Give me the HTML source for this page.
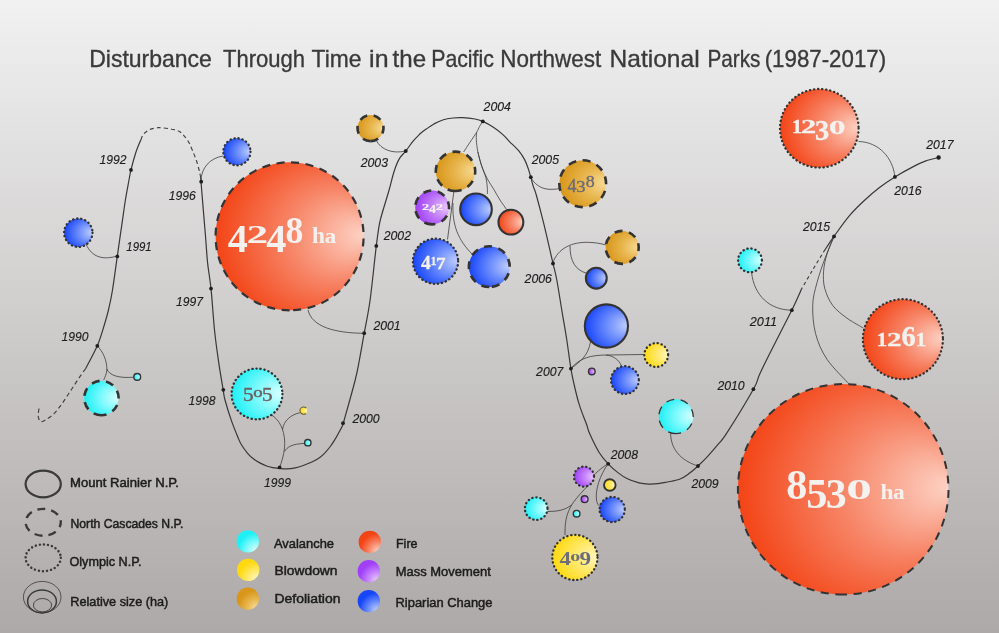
<!DOCTYPE html>
<html><head><meta charset="utf-8"><title>Disturbance Through Time</title>
<style>html,body{margin:0;padding:0;background:#ada9a8;}body{width:999px;height:633px;overflow:hidden;font-family:"Liberation Sans",sans-serif;}svg{display:block;will-change:transform}</style></head><body>
<svg width="999" height="633" viewBox="0 0 999 633">
<defs>
<linearGradient id="bg" x1="0" y1="0" x2="0" y2="1"><stop offset="0" stop-color="#f1f1f1"/><stop offset="1" stop-color="#ada9a8"/></linearGradient>
<radialGradient id="g_red" cx="0.5" cy="0.5" r="0.8" fx="1.0" fy="0.49"><stop offset="0" stop-color="#fdd2c4"/><stop offset="0.385" stop-color="#f78668"/><stop offset="0.77" stop-color="#f34416"/></radialGradient>
<radialGradient id="l_red" cx="0.86" cy="0.92" r="0.8" fx="0.86" fy="0.92"><stop offset="0" stop-color="#fdd2c4"/><stop offset="0.5" stop-color="#f78668"/><stop offset="1" stop-color="#f34416"/></radialGradient>
<radialGradient id="g_blue" cx="0.5" cy="0.5" r="0.8" fx="1.0" fy="0.49"><stop offset="0" stop-color="#c2d0ff"/><stop offset="0.385" stop-color="#6a8bfc"/><stop offset="0.77" stop-color="#1745fa"/></radialGradient>
<radialGradient id="l_blue" cx="0.86" cy="0.92" r="0.8" fx="0.86" fy="0.92"><stop offset="0" stop-color="#c2d0ff"/><stop offset="0.5" stop-color="#6a8bfc"/><stop offset="1" stop-color="#1745fa"/></radialGradient>
<radialGradient id="g_cyan" cx="0.5" cy="0.5" r="0.8" fx="1.0" fy="0.49"><stop offset="0" stop-color="#dcffff"/><stop offset="0.385" stop-color="#7ffafc"/><stop offset="0.77" stop-color="#1ef0f6"/></radialGradient>
<radialGradient id="l_cyan" cx="0.86" cy="0.92" r="0.8" fx="0.86" fy="0.92"><stop offset="0" stop-color="#dcffff"/><stop offset="0.5" stop-color="#7ffafc"/><stop offset="1" stop-color="#1ef0f6"/></radialGradient>
<radialGradient id="g_yellow" cx="0.5" cy="0.5" r="0.8" fx="1.0" fy="0.49"><stop offset="0" stop-color="#fff7c0"/><stop offset="0.385" stop-color="#ffe868"/><stop offset="0.77" stop-color="#ffd90f"/></radialGradient>
<radialGradient id="l_yellow" cx="0.86" cy="0.92" r="0.8" fx="0.86" fy="0.92"><stop offset="0" stop-color="#fff7c0"/><stop offset="0.5" stop-color="#ffe868"/><stop offset="1" stop-color="#ffd90f"/></radialGradient>
<radialGradient id="g_orange" cx="0.5" cy="0.5" r="0.8" fx="1.0" fy="0.49"><stop offset="0" stop-color="#f7dc98"/><stop offset="0.385" stop-color="#e8b64e"/><stop offset="0.77" stop-color="#d8961a"/></radialGradient>
<radialGradient id="l_orange" cx="0.86" cy="0.92" r="0.8" fx="0.86" fy="0.92"><stop offset="0" stop-color="#f7dc98"/><stop offset="0.5" stop-color="#e8b64e"/><stop offset="1" stop-color="#d8961a"/></radialGradient>
<radialGradient id="g_purple" cx="0.5" cy="0.5" r="0.8" fx="1.0" fy="0.49"><stop offset="0" stop-color="#eccbfd"/><stop offset="0.385" stop-color="#c482fb"/><stop offset="0.77" stop-color="#a03ef8"/></radialGradient>
<radialGradient id="l_purple" cx="0.86" cy="0.92" r="0.8" fx="0.86" fy="0.92"><stop offset="0" stop-color="#eccbfd"/><stop offset="0.5" stop-color="#c482fb"/><stop offset="1" stop-color="#a03ef8"/></radialGradient>
</defs>
<rect width="999" height="633" fill="url(#bg)"/>
<g font-family="Liberation Sans" font-size="24" fill="#3a3a3a" stroke="#3a3a3a" stroke-width="0.35">
<text x="89.2" y="66.6" textLength="122.7" lengthAdjust="spacingAndGlyphs">Disturbance</text>
<text x="223.0" y="66.6" textLength="82.1" lengthAdjust="spacingAndGlyphs">Through</text>
<text x="311.6" y="66.6" textLength="49.9" lengthAdjust="spacingAndGlyphs">Time</text>
<text x="369.1" y="66.6" textLength="19.4" lengthAdjust="spacingAndGlyphs">in</text>
<text x="392.6" y="66.6" textLength="33.5" lengthAdjust="spacingAndGlyphs">the</text>
<text x="431.2" y="66.6" textLength="62.7" lengthAdjust="spacingAndGlyphs">Pacific</text>
<text x="500.2" y="66.6" textLength="101.0" lengthAdjust="spacingAndGlyphs">Northwest</text>
<text x="609.6" y="66.6" textLength="90.0" lengthAdjust="spacingAndGlyphs">National</text>
<text x="707.4" y="66.6" textLength="53.0" lengthAdjust="spacingAndGlyphs">Parks</text>
<text x="764.7" y="66.6" textLength="121.4" lengthAdjust="spacingAndGlyphs">(1987-2017)</text>
</g>
<g fill="none" stroke="#383838" stroke-width="1.2" stroke-linecap="butt">
<path d="M85.6,368.7 C87.5,364.9 94.2,352.8 97.3,345.7 C100.4,338.6 102.1,332.1 104.0,326.0 C105.9,319.9 107.3,315.0 108.7,309.0 C110.1,303.0 111.1,298.8 112.5,290.0 C113.9,281.2 115.8,266.7 117.3,256.4 C118.8,246.1 119.9,237.8 121.3,228.4 C122.7,219.0 124.1,208.1 125.4,200.0 C126.7,191.9 128.1,185.0 129.0,180.0 C129.9,175.0 129.9,174.3 131.0,169.8 C132.1,165.3 134.0,158.2 135.6,153.2 C137.2,148.2 139.9,142.1 140.8,139.9"/>
<path d="M201.0,180.0 C201.0,180.5 200.4,173.8 201.1,183.0 C201.8,192.2 204.3,221.8 205.4,235.0 C206.5,248.2 206.6,253.1 207.5,262.0 C208.4,270.9 209.8,277.3 211.0,288.6 C212.2,299.9 213.3,318.1 214.5,330.0 C215.7,341.9 217.0,350.3 218.4,360.3 C219.8,370.3 222.1,383.4 223.2,390.0 C224.3,396.6 223.6,394.9 225.0,400.0 C226.4,405.1 229.3,414.6 231.5,420.9 C233.7,427.1 236.4,433.6 238.0,437.5 C239.6,441.4 239.7,441.9 241.3,444.5 C242.9,447.1 245.5,450.8 247.6,453.3 C249.7,455.8 251.9,457.7 254.0,459.3 C256.1,460.9 258.2,462.0 260.3,463.1 C262.4,464.2 264.6,465.2 266.6,466.0 C268.6,466.8 270.4,467.2 272.5,467.6 C274.6,468.0 277.3,468.2 279.5,468.4 C281.7,468.6 283.2,469.0 285.8,468.9 C288.4,468.8 292.4,468.4 295.3,467.8 C298.2,467.2 300.9,466.3 303.3,465.5 C305.8,464.7 307.6,463.9 310.0,462.8 C312.4,461.7 315.3,460.6 317.6,459.1 C319.9,457.6 321.9,455.9 324.0,453.8 C326.1,451.7 328.4,449.0 330.3,446.5 C332.2,444.0 333.8,441.3 335.3,438.9 C336.8,436.5 337.9,434.3 339.1,432.0 C340.4,429.7 342.0,427.0 342.8,425.0 C343.6,423.0 342.1,427.5 344.2,420.0 C346.3,412.5 352.7,390.0 355.2,380.0 C357.7,370.0 357.9,367.8 359.4,360.0 C360.9,352.2 362.4,343.2 364.2,333.2 C366.0,323.2 368.1,314.6 370.1,300.0 C372.1,285.4 374.7,258.7 376.3,245.9 C377.9,233.1 378.4,229.3 379.6,223.2 C380.8,217.0 381.8,214.5 383.4,209.0 C385.0,203.5 387.3,196.2 389.1,190.0 C390.9,183.8 392.3,176.9 394.0,171.7 C395.7,166.5 397.4,162.0 399.4,158.6 C401.4,155.2 403.6,153.9 405.8,151.0 C408.1,148.1 410.6,144.2 412.9,141.4 C415.2,138.6 417.6,136.2 419.5,134.3 C421.4,132.5 422.0,132.0 424.4,130.3 C426.8,128.6 430.8,125.7 434.0,123.9 C437.2,122.2 440.2,120.8 443.4,119.8 C446.5,118.8 449.7,118.4 452.9,118.0 C456.1,117.6 458.7,117.4 462.4,117.6 C466.1,117.8 471.6,118.4 475.0,119.0 C478.4,119.6 479.7,120.0 482.8,121.4 C485.9,122.8 490.0,125.0 493.4,127.2 C496.8,129.4 500.2,132.2 502.9,134.6 C505.6,137.0 506.8,138.8 509.5,141.6 C512.2,144.3 516.5,148.1 519.0,151.1 C521.5,154.1 523.0,156.6 524.6,159.6 C526.2,162.6 527.4,166.2 528.4,169.1 C529.4,172.0 530.0,174.3 530.8,177.2 C531.6,180.0 532.3,183.2 533.2,186.2 C534.1,189.2 534.5,188.8 536.3,195.0 C538.0,201.2 540.9,212.0 543.7,223.4 C546.5,234.8 550.8,254.0 553.0,263.4 C555.2,272.8 555.2,271.6 556.8,280.0 C558.4,288.4 560.7,303.8 562.4,313.8 C564.1,323.8 565.4,330.9 566.8,340.0 C568.2,349.1 569.7,361.3 570.9,368.6 C572.1,375.9 572.7,378.3 574.0,384.0 C575.3,389.7 577.1,397.5 578.7,402.9 C580.3,408.3 582.0,412.5 583.4,416.2 C584.8,419.9 585.8,422.1 586.8,425.0 C587.8,427.9 587.5,428.8 589.5,433.3 C591.5,437.8 595.9,447.1 599.0,452.2 C602.1,457.3 605.1,460.4 608.2,463.8 C611.4,467.2 614.7,470.1 617.9,472.6 C621.1,475.1 623.9,477.1 627.4,478.8 C630.9,480.5 635.5,482.0 639.0,482.9 C642.5,483.8 645.2,484.0 648.4,484.1 C651.5,484.2 654.7,484.1 657.9,483.7 C661.1,483.3 663.8,482.7 667.4,482.0 C671.0,481.3 675.9,480.7 679.5,479.3 C683.1,477.9 685.9,475.8 689.0,473.6 C692.1,471.4 694.9,468.9 698.0,466.0 C701.1,463.1 704.7,459.6 707.9,456.1 C711.1,452.6 714.2,449.1 717.4,445.2 C720.6,441.3 720.9,442.1 726.9,432.8 C732.9,423.5 748.0,398.8 753.4,389.2 C758.8,379.6 756.7,380.7 759.3,375.0 C761.9,369.3 763.6,365.8 769.0,355.0 C774.4,344.2 786.8,320.2 791.8,310.2 C796.8,300.2 797.3,298.5 798.9,295.0 C800.5,291.5 801.1,290.0 801.5,289.0"/>
<path d="M823.4,252.2 C825.2,249.6 829.6,242.5 834.0,236.4 C838.4,230.3 844.4,221.6 849.5,215.6 C854.6,209.6 859.6,204.8 864.6,200.2 C869.6,195.6 874.2,191.7 879.2,187.8 C884.2,183.9 889.2,180.4 894.9,176.9 C900.6,173.4 908.1,169.3 913.3,166.6 C918.5,163.9 921.7,162.4 925.9,160.9 C930.1,159.4 936.5,158.1 938.6,157.5"/>
</g>
<g fill="none" stroke="#404040" stroke-width="1.15">
<path d="M85.6,368.7 C84.9,369.6 83.8,370.9 81.6,374.2 C79.3,377.5 75.2,383.8 72.1,388.5 C68.9,393.2 65.7,398.5 62.7,402.7 C59.7,406.9 56.9,410.8 54.0,413.7 C51.1,416.6 47.5,418.7 45.3,420.0 C43.0,421.3 41.7,422.2 40.5,421.6 C39.3,421.0 38.5,418.3 38.2,416.1 C38.0,413.9 38.9,409.5 39.0,408.2" stroke-dasharray="4.3 3"/>
<path d="M140.8,139.9 C141.3,138.9 142.1,135.9 143.6,134.2 C145.1,132.5 147.5,130.6 149.8,129.5 C152.1,128.4 155.6,128.1 157.4,127.8 C159.2,127.5 158.0,127.5 160.4,127.7 C162.8,127.9 168.6,128.5 171.8,129.2 C175.0,129.8 177.4,130.5 179.4,131.6 C181.4,132.7 182.5,134.1 184.1,135.9 C185.7,137.7 187.5,140.0 188.9,142.5 C190.3,145.0 191.4,148.0 192.7,151.0 C193.9,154.0 195.3,157.2 196.4,160.5 C197.5,163.8 198.7,168.5 199.3,170.9 C199.9,173.3 199.9,173.5 200.2,175.0 C200.5,176.5 200.9,179.2 201.0,180.0" stroke-dasharray="4.1 3"/>
<path d="M801.5,289.0 C803.3,285.9 808.8,276.5 812.4,270.4 C816.0,264.3 821.6,255.2 823.4,252.2" stroke-dasharray="3.4 2.9" stroke-dashoffset="1.5"/>
</g>
<g fill="none" stroke="#3c3c3c" stroke-width="0.8">
<path d="M117,256 C104,260 92,258 86,244"/>
<path d="M201,181 C201,168 210,158 223,156"/>
<path d="M97.3,345.8 C103,352 107,360 106.9,370 C106.5,374 105,377 103.7,380"/>
<path d="M106.9,369 C109,375 118,378.5 133.6,377.2"/>
<path d="M364,333.3 C335,333 312,327 308,310"/>
<path d="M279.8,467.1 C283,458 285.3,449 284.6,440 C283.8,430 280,420 271,414.6"/>
<path d="M282.6,429.5 C283.5,421 291,414.5 299.8,412.8"/>
<path d="M284.6,451.5 C287,447 292,444 304.3,443.4"/>
<path d="M405.5,151 C393,154 381,150 376,140"/>
<path d="M482.8,121.4 C482.2,122.2 480.5,124.7 479.5,126.5 C478.5,128.3 478.2,129.8 476.6,132.4 C475.0,135.0 472.2,138.9 470.0,142.2 C467.8,145.5 464.7,150.4 463.6,152.0"/>
<path d="M476.6,132.4 C476.6,133.6 476.1,136.2 476.3,139.5 C476.5,142.8 477.0,147.6 477.9,152.1 C478.8,156.6 480.5,162.1 481.8,166.3 C483.1,170.5 484.9,174.1 485.8,177.4 C486.7,180.7 486.9,183.2 487.2,186.0 C487.5,188.8 487.4,192.7 487.4,194.0"/>
<path d="M477.9,152.1 C478.5,154.5 480.2,161.8 481.8,166.3 C483.4,170.8 485.4,175.2 487.4,179.0 C489.4,182.8 491.6,185.7 493.7,189.2 C495.8,192.7 497.8,196.6 500.0,200.0 C502.2,203.4 505.7,208.2 506.8,209.8"/>
<path d="M454,190.5 L447.5,239.5"/>
<path d="M453,203 C452,225 458,240 472.5,254.5"/>
<path d="M530.8,177.2 C533.5,183 540,188.5 548,189.2 C552,189.5 556,189.3 559.6,188.5"/>
<path d="M552.6,263.2 C558,248 572,242 588,242.3 C595,242.5 601,243.5 606,245"/>
<path d="M570,246 C570,262 576,270 586,273"/>
<path d="M570.8,368.5 C580,362 588,356 590.5,342"/>
<path d="M570.8,368.5 C580,358 590,355 608,355 L644,354.5"/>
<path d="M606,355 C614,356 619,360 621.5,366"/>
<path d="M608.2,463.6 C600,469 596,473 593.5,475.5"/>
<path d="M590,483.5 C582,492 574,500 570,508 C565,518 565,527 565,535"/>
<path d="M571.5,505 C565,510 558,511.5 547.5,511.5"/>
<path d="M608.2,463.6 C600,475 595,490 596.5,500 C597,503.5 598.5,505.5 600,506.5"/>
<path d="M698.2,466.1 C684,461.5 671,452 670.6,433.5"/>
<path d="M791.8,310.2 C770,310 754,296 751.5,272"/>
<path d="M834.1,236.2 C832.9,239.2 828.8,248.3 827.0,254.1 C825.2,259.9 824.0,265.5 823.6,271.2 C823.2,276.9 823.2,282.5 824.7,288.2 C826.2,293.9 828.9,300.3 832.6,305.3 C836.3,310.3 841.7,314.3 846.9,318.1 C852.1,321.9 860.8,326.5 863.6,328.2"/>
<path d="M834.1,236.2 C832.7,239.7 828.4,249.3 825.5,257.0 C822.6,264.7 819.1,274.6 817.0,282.6 C814.9,290.7 812.9,296.8 812.7,305.3 C812.5,313.8 813.2,324.7 815.6,333.7 C818.0,342.7 821.3,350.8 827.0,359.3 C832.7,367.8 845.9,380.4 849.7,384.6"/>
<path d="M894.9,176.9 C893,158 879,142 858.5,141.5"/>
</g>
<g fill="#1e1e1e">
<circle cx="97.3" cy="345.8" r="1.9"/>
<circle cx="117.3" cy="256.4" r="1.9"/>
<circle cx="131.0" cy="169.9" r="1.9"/>
<circle cx="201.2" cy="181.7" r="1.9"/>
<circle cx="211" cy="288.6" r="1.9"/>
<circle cx="223.3" cy="389.8" r="1.9"/>
<circle cx="279.6" cy="467.4" r="1.9"/>
<circle cx="343.0" cy="423.2" r="1.9"/>
<circle cx="364.2" cy="333.2" r="1.9"/>
<circle cx="376.3" cy="245.9" r="1.9"/>
<circle cx="405.8" cy="151" r="1.9"/>
<circle cx="482.8" cy="121.4" r="1.9"/>
<circle cx="530.8" cy="177.2" r="1.9"/>
<circle cx="553.0" cy="263.5" r="1.9"/>
<circle cx="570.9" cy="368.6" r="1.9"/>
<circle cx="608.2" cy="463.8" r="1.9"/>
<circle cx="698.0" cy="466.0" r="1.9"/>
<circle cx="753.4" cy="389.2" r="1.9"/>
<circle cx="791.8" cy="310.2" r="1.9"/>
<circle cx="834" cy="236.4" r="1.9"/>
<circle cx="894.9" cy="176.9" r="1.9"/>
<circle cx="938.6" cy="157.5" r="2.2"/>
</g>
<g font-family="Liberation Sans" font-style="italic" font-size="12.2" fill="#1e1e1e" stroke="#1e1e1e" stroke-width="0.15">
<text x="61.6" y="340.9" textLength="27.0" lengthAdjust="spacingAndGlyphs">1990</text>
<text x="126.3" y="251.2" textLength="25.4" lengthAdjust="spacingAndGlyphs">1991</text>
<text x="99.6" y="163.8" textLength="27.0" lengthAdjust="spacingAndGlyphs">1992</text>
<text x="168.7" y="199.7" textLength="27.0" lengthAdjust="spacingAndGlyphs">1996</text>
<text x="175.9" y="305.5" textLength="27.0" lengthAdjust="spacingAndGlyphs">1997</text>
<text x="188.6" y="405.2" textLength="27.0" lengthAdjust="spacingAndGlyphs">1998</text>
<text x="263.9" y="487.1" textLength="27.0" lengthAdjust="spacingAndGlyphs">1999</text>
<text x="352.4" y="423.4" textLength="27.3" lengthAdjust="spacingAndGlyphs">2000</text>
<text x="373.4" y="330" textLength="27.3" lengthAdjust="spacingAndGlyphs">2001</text>
<text x="383.7" y="240.3" textLength="27.3" lengthAdjust="spacingAndGlyphs">2002</text>
<text x="360.7" y="166.8" textLength="27.3" lengthAdjust="spacingAndGlyphs">2003</text>
<text x="483.6" y="110.7" textLength="27.3" lengthAdjust="spacingAndGlyphs">2004</text>
<text x="531.7" y="164.1" textLength="27.3" lengthAdjust="spacingAndGlyphs">2005</text>
<text x="524.6" y="283.4" textLength="27.3" lengthAdjust="spacingAndGlyphs">2006</text>
<text x="536.1" y="376.1" textLength="27.3" lengthAdjust="spacingAndGlyphs">2007</text>
<text x="610.7" y="458.6" textLength="27.3" lengthAdjust="spacingAndGlyphs">2008</text>
<text x="691.4" y="488.1" textLength="27.3" lengthAdjust="spacingAndGlyphs">2009</text>
<text x="717.4" y="389.5" textLength="27.3" lengthAdjust="spacingAndGlyphs">2010</text>
<text x="749.8" y="325.9" textLength="27.3" lengthAdjust="spacingAndGlyphs">2011</text>
<text x="802.9" y="231.1" textLength="27.3" lengthAdjust="spacingAndGlyphs">2015</text>
<text x="894.3" y="195.1" textLength="27.3" lengthAdjust="spacingAndGlyphs">2016</text>
<text x="926.2" y="149.1" textLength="27.3" lengthAdjust="spacingAndGlyphs">2017</text>
</g>
<circle cx="78.3" cy="232.7" r="14.2" fill="url(#g_blue)"/>
<circle cx="78.3" cy="232.7" r="14.2" fill="none" stroke="#333" stroke-width="2.3" stroke-dasharray="0.3 3.78" stroke-linecap="round"/>
<circle cx="236.9" cy="151.75" r="13.6" fill="url(#g_blue)"/>
<circle cx="236.9" cy="151.75" r="13.6" fill="none" stroke="#333" stroke-width="2.3" stroke-dasharray="0.3 3.78" stroke-linecap="round"/>
<circle cx="101.4" cy="398.0" r="17.2" fill="url(#g_cyan)"/>
<circle cx="101.4" cy="398.0" r="17.2" fill="none" stroke="#333" stroke-width="2.6" stroke-dasharray="8 6.6" transform="rotate(90 101.4 398.0)"/>
<circle cx="137.2" cy="376.9" r="3.4" fill="url(#g_cyan)"/>
<circle cx="137.2" cy="376.9" r="3.4" fill="none" stroke="#333" stroke-width="1.4"/>
<circle cx="289.6" cy="236.3" r="74.0" fill="url(#g_red)"/>
<circle cx="289.6" cy="236.3" r="74.0" fill="none" stroke="#333" stroke-width="2.2" stroke-dasharray="8 6.6" transform="rotate(90 289.6 236.3)"/>
<circle cx="257.0" cy="393.95" r="25.4" fill="url(#g_cyan)"/>
<circle cx="257.0" cy="393.95" r="25.4" fill="none" stroke="#333" stroke-width="2.3" stroke-dasharray="0.3 3.78" stroke-linecap="round"/>
<circle cx="303.6" cy="410.6" r="3.6" fill="url(#g_yellow)"/>
<circle cx="303.6" cy="410.6" r="3.6" fill="none" stroke="#6a5c30" stroke-width="1.1" stroke-dasharray="0 3.2 16.2 3.2"/>
<circle cx="307.8" cy="442.7" r="3.2" fill="url(#g_cyan)"/>
<circle cx="307.8" cy="442.7" r="3.2" fill="none" stroke="#333" stroke-width="1.4"/>
<circle cx="370.5" cy="128.1" r="13.0" fill="url(#g_orange)"/>
<circle cx="370.5" cy="128.1" r="13.0" fill="none" stroke="#333" stroke-width="2.6" stroke-dasharray="8 6.6" transform="rotate(90 370.5 128.1)"/>
<circle cx="455.5" cy="171.35" r="19.7" fill="url(#g_orange)"/>
<circle cx="455.5" cy="171.35" r="19.7" fill="none" stroke="#333" stroke-width="2.6" stroke-dasharray="8 6.6" transform="rotate(90 455.5 171.35)"/>
<circle cx="432.1" cy="207.45" r="16.9" fill="url(#g_purple)"/>
<circle cx="432.1" cy="207.45" r="16.9" fill="none" stroke="#333" stroke-width="2.6" stroke-dasharray="8 6.6" transform="rotate(90 432.1 207.45)"/>
<circle cx="476" cy="209.35" r="15.8" fill="url(#g_blue)"/>
<circle cx="476" cy="209.35" r="15.8" fill="none" stroke="#333" stroke-width="2.1"/>
<circle cx="510.9" cy="222.15" r="12.4" fill="url(#g_red)"/>
<circle cx="510.9" cy="222.15" r="12.4" fill="none" stroke="#333" stroke-width="2.1"/>
<circle cx="582.7" cy="183.7" r="23.4" fill="url(#g_orange)"/>
<circle cx="582.7" cy="183.7" r="23.4" fill="none" stroke="#333" stroke-width="2.6" stroke-dasharray="8 6.6" transform="rotate(90 582.7 183.7)"/>
<circle cx="435.5" cy="261.25" r="22.6" fill="url(#g_blue)"/>
<circle cx="435.5" cy="261.25" r="22.6" fill="none" stroke="#333" stroke-width="2.3" stroke-dasharray="0.3 3.78" stroke-linecap="round"/>
<circle cx="489.3" cy="266.65" r="20.4" fill="url(#g_blue)"/>
<circle cx="489.3" cy="266.65" r="20.4" fill="none" stroke="#333" stroke-width="2.6" stroke-dasharray="8 6.6" transform="rotate(90 489.3 266.65)"/>
<circle cx="622.2" cy="247.4" r="16.5" fill="url(#g_orange)"/>
<circle cx="622.2" cy="247.4" r="16.5" fill="none" stroke="#333" stroke-width="2.6" stroke-dasharray="8 6.6" transform="rotate(90 622.2 247.4)"/>
<circle cx="596.3" cy="278.2" r="10.4" fill="url(#g_blue)"/>
<circle cx="596.3" cy="278.2" r="10.4" fill="none" stroke="#333" stroke-width="2.1"/>
<circle cx="606.4" cy="326.0" r="21.6" fill="url(#g_blue)"/>
<circle cx="606.4" cy="326.0" r="21.6" fill="none" stroke="#333" stroke-width="2.1"/>
<circle cx="656.2" cy="355.0" r="11.9" fill="url(#g_yellow)"/>
<circle cx="656.2" cy="355.0" r="11.9" fill="none" stroke="#333" stroke-width="2.3" stroke-dasharray="0.3 3.78" stroke-linecap="round"/>
<circle cx="624.9" cy="380.1" r="13.9" fill="url(#g_blue)"/>
<circle cx="624.9" cy="380.1" r="13.9" fill="none" stroke="#333" stroke-width="2.3" stroke-dasharray="0.3 3.78" stroke-linecap="round"/>
<circle cx="591.8" cy="371.45" r="3.3" fill="url(#g_purple)"/>
<circle cx="591.8" cy="371.45" r="3.3" fill="none" stroke="#333" stroke-width="1.4"/>
<circle cx="676.0" cy="416.5" r="17.2" fill="url(#g_cyan)"/>
<circle cx="676.0" cy="416.5" r="17.2" fill="none" stroke="#333" stroke-width="1.3" stroke-dasharray="8 6.6" transform="rotate(90 676.0 416.5)"/>
<circle cx="584" cy="476.6" r="10.0" fill="url(#g_purple)"/>
<circle cx="584" cy="476.6" r="10.0" fill="none" stroke="#333" stroke-width="2.3" stroke-dasharray="0.3 3.78" stroke-linecap="round"/>
<circle cx="609.8" cy="485" r="5.8" fill="url(#g_yellow)"/>
<circle cx="609.8" cy="485" r="5.8" fill="none" stroke="#333" stroke-width="1.9"/>
<circle cx="612.2" cy="509.5" r="12.6" fill="url(#g_blue)"/>
<circle cx="612.2" cy="509.5" r="12.6" fill="none" stroke="#333" stroke-width="2.3" stroke-dasharray="0.3 3.78" stroke-linecap="round"/>
<circle cx="584.6" cy="499.2" r="3.4" fill="url(#g_purple)"/>
<circle cx="584.6" cy="499.2" r="3.4" fill="none" stroke="#333" stroke-width="1.4"/>
<circle cx="576.6" cy="513.7" r="3.3" fill="url(#g_cyan)"/>
<circle cx="576.6" cy="513.7" r="3.3" fill="none" stroke="#333" stroke-width="1.4"/>
<circle cx="536.2" cy="508.6" r="11.3" fill="url(#g_cyan)"/>
<circle cx="536.2" cy="508.6" r="11.3" fill="none" stroke="#333" stroke-width="2.3" stroke-dasharray="0.3 3.78" stroke-linecap="round"/>
<circle cx="574.9" cy="557.45" r="22.6" fill="url(#g_yellow)"/>
<circle cx="574.9" cy="557.45" r="22.6" fill="none" stroke="#333" stroke-width="2.3" stroke-dasharray="0.3 3.78" stroke-linecap="round"/>
<circle cx="750" cy="260.35" r="11.9" fill="url(#g_cyan)"/>
<circle cx="750" cy="260.35" r="11.9" fill="none" stroke="#333" stroke-width="2.3" stroke-dasharray="0.3 3.78" stroke-linecap="round"/>
<circle cx="819.3" cy="128.3" r="39.3" fill="url(#g_red)"/>
<circle cx="819.3" cy="128.3" r="39.3" fill="none" stroke="#333" stroke-width="2.3" stroke-dasharray="0.3 3.78" stroke-linecap="round"/>
<circle cx="902.9" cy="339.2" r="40.0" fill="url(#g_red)"/>
<circle cx="902.9" cy="339.2" r="40.0" fill="none" stroke="#333" stroke-width="2.3" stroke-dasharray="0.3 3.78" stroke-linecap="round"/>
<circle cx="843.2" cy="489.3" r="105.3" fill="url(#g_red)"/>
<circle cx="843.2" cy="489.3" r="105.3" fill="none" stroke="#333" stroke-width="2.0" stroke-dasharray="8 6.6" transform="rotate(90 843.2 489.3)"/>
<text transform="matrix(0.4019 0 0 0.3996 227.65 251.80)" font-family="Liberation Serif" font-weight="bold" font-size="100" fill="#f4f1ee">4</text>
<text transform="matrix(0.4337 0 0 0.2613 246.38 242.80)" font-family="Liberation Serif" font-weight="bold" font-size="100" fill="#f4f1ee">2</text>
<text transform="matrix(0.4019 0 0 0.3996 266.25 251.80)" font-family="Liberation Serif" font-weight="bold" font-size="100" fill="#f4f1ee">4</text>
<text transform="matrix(0.3575 0 0 0.3764 285.41 242.73)" font-family="Liberation Serif" font-weight="bold" font-size="100" fill="#f4f1ee">8</text>
<text transform="matrix(0.2325 0 0 0.2205 312.02 242.80)" font-family="Liberation Serif" font-weight="bold" font-size="100" fill="#f4f1ee">h</text>
<text transform="matrix(0.2364 0 0 0.2171 324.44 242.79)" font-family="Liberation Serif" font-weight="bold" font-size="100" fill="#f4f1ee">a</text>
<text transform="matrix(0.4221 0 0 0.4164 786.30 498.69)" font-family="Liberation Serif" font-weight="bold" font-size="100" fill="#f4f1ee">8</text>
<text transform="matrix(0.4252 0 0 0.4274 806.30 508.18)" font-family="Liberation Serif" font-weight="bold" font-size="100" fill="#f4f1ee">5</text>
<text transform="matrix(0.4180 0 0 0.4257 825.63 508.18)" font-family="Liberation Serif" font-weight="bold" font-size="100" fill="#f4f1ee">3</text>
<text transform="matrix(0.5120 0 0 0.2845 846.15 498.92)" font-family="Liberation Serif" font-weight="bold" font-size="100" fill="#f4f1ee">0</text>
<text transform="matrix(0.2344 0 0 0.2162 880.52 498.80)" font-family="Liberation Serif" font-weight="bold" font-size="100" fill="#f4f1ee">h</text>
<text transform="matrix(0.2342 0 0 0.2129 893.05 498.79)" font-family="Liberation Serif" font-weight="bold" font-size="100" fill="#f4f1ee">a</text>
<text transform="matrix(0.2105 0 0 0.1916 791.69 133.22)" font-family="Liberation Serif" font-weight="bold" font-size="100" fill="#f4f1ee" stroke="#f4f1ee" stroke-width="1.74" stroke-linejoin="round">1</text>
<text transform="matrix(0.3048 0 0 0.1911 801.10 133.22)" font-family="Liberation Serif" font-weight="bold" font-size="100" fill="#f4f1ee" stroke="#f4f1ee" stroke-width="1.41" stroke-linejoin="round">2</text>
<text transform="matrix(0.2837 0 0 0.2865 815.11 139.55)" font-family="Liberation Serif" font-weight="bold" font-size="100" fill="#f4f1ee" stroke="#f4f1ee" stroke-width="1.23" stroke-linejoin="round">3</text>
<text transform="matrix(0.3291 0 0 0.1949 828.92 133.53)" font-family="Liberation Serif" font-weight="bold" font-size="100" fill="#f4f1ee" stroke="#f4f1ee" stroke-width="1.34" stroke-linejoin="round">0</text>
<text transform="matrix(0.2105 0 0 0.1931 876.69 345.93)" font-family="Liberation Serif" font-weight="bold" font-size="100" fill="#f4f1ee" stroke="#f4f1ee" stroke-width="1.73" stroke-linejoin="round">1</text>
<text transform="matrix(0.2903 0 0 0.1926 886.96 345.93)" font-family="Liberation Serif" font-weight="bold" font-size="100" fill="#f4f1ee" stroke="#f4f1ee" stroke-width="1.45" stroke-linejoin="round">2</text>
<text transform="matrix(0.2852 0 0 0.2865 901.60 346.05)" font-family="Liberation Serif" font-weight="bold" font-size="100" fill="#f4f1ee" stroke="#f4f1ee" stroke-width="1.22" stroke-linejoin="round">6</text>
<text transform="matrix(0.2187 0 0 0.1931 915.42 345.93)" font-family="Liberation Serif" font-weight="bold" font-size="100" fill="#f4f1ee" stroke="#f4f1ee" stroke-width="1.70" stroke-linejoin="round">1</text>
<text transform="matrix(0.1434 0 0 0.0868 421.92 210.28)" font-family="Liberation Serif" font-weight="bold" font-size="100" fill="#f4f1ee" stroke="#f4f1ee" stroke-width="2.17" stroke-linejoin="round">2</text>
<text transform="matrix(0.1400 0 0 0.1314 428.93 213.18)" font-family="Liberation Serif" font-weight="bold" font-size="100" fill="#f4f1ee" stroke="#f4f1ee" stroke-width="1.84" stroke-linejoin="round">4</text>
<text transform="matrix(0.1434 0 0 0.0868 435.82 210.28)" font-family="Liberation Serif" font-weight="bold" font-size="100" fill="#f4f1ee" stroke="#f4f1ee" stroke-width="2.17" stroke-linejoin="round">2</text>
<text transform="matrix(0.1967 0 0 0.1914 420.88 268.75)" font-family="Liberation Serif" font-weight="bold" font-size="100" fill="#f4f1ee" stroke="#f4f1ee" stroke-width="1.55" stroke-linejoin="round">4</text>
<text transform="matrix(0.1114 0 0 0.1197 430.86 265.15)" font-family="Liberation Serif" font-weight="bold" font-size="100" fill="#f4f1ee" stroke="#f4f1ee" stroke-width="2.60" stroke-linejoin="round">1</text>
<text transform="matrix(0.1912 0 0 0.1772 436.06 268.75)" font-family="Liberation Serif" font-weight="bold" font-size="100" fill="#f4f1ee" stroke="#f4f1ee" stroke-width="1.63" stroke-linejoin="round">7</text>
<text transform="matrix(0.2122 0 0 0.1904 242.89 401.49)" font-family="Liberation Serif" font-weight="normal" font-size="100" fill="#6c6162" stroke="#6c6162" stroke-width="2.24" stroke-linejoin="round">5</text>
<text transform="matrix(0.1876 0 0 0.1000 253.21 396.88)" font-family="Liberation Serif" font-weight="normal" font-size="100" fill="#6c6162" stroke="#6c6162" stroke-width="3.13" stroke-linejoin="round">0</text>
<text transform="matrix(0.2122 0 0 0.1904 261.99 401.49)" font-family="Liberation Serif" font-weight="normal" font-size="100" fill="#6c6162" stroke="#6c6162" stroke-width="2.24" stroke-linejoin="round">5</text>
<text transform="matrix(0.1786 0 0 0.1869 567.45 191.50)" font-family="Liberation Serif" font-weight="normal" font-size="100" fill="#6c6c78" stroke="#6c6c78" stroke-width="2.19" stroke-linejoin="round">4</text>
<text transform="matrix(0.1864 0 0 0.1727 576.21 191.63)" font-family="Liberation Serif" font-weight="normal" font-size="100" fill="#6c6c78" stroke="#6c6c78" stroke-width="2.23" stroke-linejoin="round">3</text>
<text transform="matrix(0.1793 0 0 0.1719 585.72 186.63)" font-family="Liberation Serif" font-weight="normal" font-size="100" fill="#6c6c78" stroke="#6c6c78" stroke-width="2.28" stroke-linejoin="round">8</text>
<text transform="matrix(0.2287 0 0 0.1960 559.59 565.10)" font-family="Liberation Serif" font-weight="bold" font-size="100" fill="#6e6e7a">4</text>
<text transform="matrix(0.2006 0 0 0.1008 570.24 560.90)" font-family="Liberation Serif" font-weight="bold" font-size="100" fill="#6e6e7a">0</text>
<text transform="matrix(0.2314 0 0 0.1846 579.47 564.92)" font-family="Liberation Serif" font-weight="bold" font-size="100" fill="#6e6e7a">9</text>
<g fill="none" stroke="#3a3a3a">
<ellipse cx="43.2" cy="484" rx="17.6" ry="13.4" stroke-width="2.2"/>
<ellipse cx="43.2" cy="522.3" rx="17.6" ry="13.4" stroke-width="2.4" stroke-dasharray="8 6" stroke-dashoffset="3"/>
<ellipse cx="43.2" cy="557.8" rx="17.6" ry="13.4" stroke-width="2.5" stroke-dasharray="0.01 4.08" stroke-linecap="round"/>
<ellipse cx="42.2" cy="597.1" rx="18.8" ry="15.7" stroke-width="0.8"/>
<ellipse cx="42" cy="601.4" rx="14.4" ry="11.5" stroke-width="1.5"/>
<ellipse cx="42.5" cy="605.2" rx="9.1" ry="6.7" stroke-width="0.9"/>
</g>
<g font-family="Liberation Sans" font-size="12.2" fill="#1c1c1c" stroke="#1c1c1c" stroke-width="0.45">
<text x="70" y="487.3" textLength="109" lengthAdjust="spacingAndGlyphs">Mount Rainier N.P.</text>
<text x="70.5" y="528.3" textLength="113" lengthAdjust="spacingAndGlyphs">North Cascades N.P.</text>
<text x="69.5" y="566.3" textLength="72" lengthAdjust="spacingAndGlyphs">Olympic N.P.</text>
<text x="70.3" y="606" textLength="98" lengthAdjust="spacingAndGlyphs">Relative size (ha)</text>
<text x="274" y="547.6" textLength="60" lengthAdjust="spacingAndGlyphs">Avalanche</text>
<text x="274.5" y="575.3" textLength="63" lengthAdjust="spacingAndGlyphs">Blowdown</text>
<text x="274.5" y="603" textLength="66" lengthAdjust="spacingAndGlyphs">Defoliation</text>
<text x="396" y="548.2" textLength="21.5" lengthAdjust="spacingAndGlyphs">Fire</text>
<text x="395.8" y="575.9" textLength="95" lengthAdjust="spacingAndGlyphs">Mass Movement</text>
<text x="395.5" y="606.8" textLength="97" lengthAdjust="spacingAndGlyphs">Riparian Change</text>
</g>
<circle cx="247.8" cy="541.4" r="11.2" fill="url(#l_cyan)"/>
<circle cx="248.2" cy="569.9" r="11.2" fill="url(#l_yellow)"/>
<circle cx="247.8" cy="598.7" r="11.2" fill="url(#l_orange)"/>
<circle cx="369.8" cy="541.9" r="11.2" fill="url(#l_red)"/>
<circle cx="368.8" cy="571.2" r="11.2" fill="url(#l_purple)"/>
<circle cx="368.8" cy="601.1" r="11.2" fill="url(#l_blue)"/>
</svg></body></html>
